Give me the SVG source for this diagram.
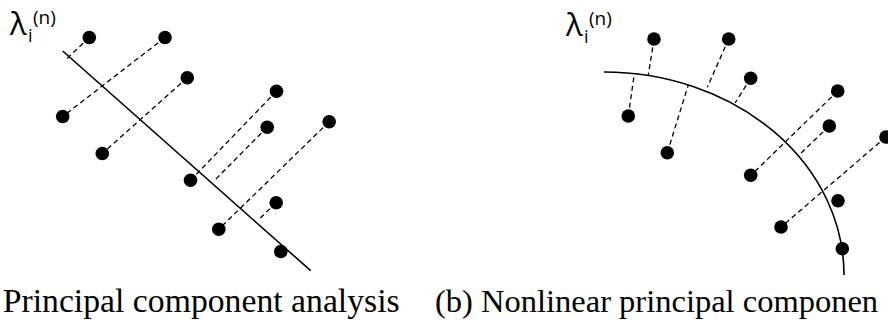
<svg xmlns="http://www.w3.org/2000/svg" width="888" height="323" viewBox="0 0 888 323">
<style>
.dot{fill:#000}
.proj{stroke:#000;stroke-width:1.3;stroke-dasharray:5 3.5;fill:none}
.axis{stroke:#000;stroke-width:1.6;fill:none}
.lam{font-family:"Open Sans","Liberation Sans",sans-serif;fill:#000}
.cap{fill:#000}
</style>
<rect width="888" height="323" fill="#fff"/>
<g id="connectors">
  <line class="axis" x1="62.7" y1="51" x2="310.7" y2="270.7"/>
  <line class="proj" x1="89.3" y1="37.5" x2="67" y2="58.5"/>
  <line class="proj" x1="165" y1="37.5" x2="62.7" y2="116.5"/>
  <line class="proj" x1="187.3" y1="77.7" x2="102.3" y2="153.5"/>
  <line class="proj" x1="276.5" y1="91.2" x2="190.5" y2="180.3"/>
  <line class="proj" x1="267.2" y1="127.2" x2="213.3" y2="181.7"/>
  <line class="proj" x1="329.2" y1="121.7" x2="218.8" y2="229.2"/>
  <line class="proj" x1="276.2" y1="202.7" x2="260" y2="218.3"/>
  <path class="axis" d="M604 72 A240 203 0 0 1 844 275"/>
  <line class="proj" x1="654" y1="39" x2="648.3" y2="75"/>
  <line class="proj" x1="628.3" y1="116" x2="634.3" y2="74"/>
  <line class="proj" x1="667.3" y1="152.7" x2="688.3" y2="85"/>
  <line class="proj" x1="728.7" y1="39" x2="707.3" y2="87.3"/>
  <line class="proj" x1="750.7" y1="78.3" x2="735" y2="103"/>
  <line class="proj" x1="837.7" y1="91" x2="750.7" y2="175.5"/>
  <line class="proj" x1="829.3" y1="126" x2="800" y2="154"/>
  <line class="proj" x1="886" y1="137" x2="781" y2="227"/>
</g>
<g id="pca-points">
  <g id="a1"><circle class="dot" cx="89.3" cy="37.5" r="6.8"/></g>
  <g id="a2"><circle class="dot" cx="165" cy="37.5" r="6.8"/></g>
  <g id="a3"><circle class="dot" cx="187.3" cy="77.7" r="6.8"/></g>
  <g id="a4"><circle class="dot" cx="62.7" cy="116.5" r="6.8"/></g>
  <g id="a5"><circle class="dot" cx="102.3" cy="153.5" r="6.8"/></g>
  <g id="a6"><circle class="dot" cx="276.5" cy="91.2" r="6.8"/></g>
  <g id="a7"><circle class="dot" cx="267.2" cy="127.2" r="6.8"/></g>
  <g id="a8"><circle class="dot" cx="329.2" cy="121.7" r="6.8"/></g>
  <g id="a9"><circle class="dot" cx="190.5" cy="180.3" r="6.8"/></g>
  <g id="a10"><circle class="dot" cx="276.2" cy="202.7" r="6.8"/></g>
  <g id="a11"><circle class="dot" cx="218.8" cy="229.2" r="6.8"/></g>
  <g id="a12"><circle class="dot" cx="280.8" cy="251.5" r="6.8"/></g>
</g>
<g id="npca-points">
  <g id="b1"><circle class="dot" cx="654" cy="39" r="6.8"/></g>
  <g id="b2"><circle class="dot" cx="728.7" cy="39" r="6.8"/></g>
  <g id="b3"><circle class="dot" cx="750.7" cy="78.3" r="6.8"/></g>
  <g id="b4"><circle class="dot" cx="628.3" cy="116" r="6.8"/></g>
  <g id="b5"><circle class="dot" cx="667.3" cy="152.7" r="6.8"/></g>
  <g id="b6"><circle class="dot" cx="837.7" cy="91" r="6.8"/></g>
  <g id="b7"><circle class="dot" cx="829.3" cy="126" r="6.8"/></g>
  <g id="b8"><circle class="dot" cx="886" cy="137" r="6.8"/></g>
  <g id="b9"><circle class="dot" cx="750.7" cy="175.3" r="6.8"/></g>
  <g id="b10"><circle class="dot" cx="838" cy="200.7" r="6.8"/></g>
  <g id="b11"><circle class="dot" cx="781" cy="227" r="6.8"/></g>
  <g id="b12"><circle class="dot" cx="842.3" cy="248.7" r="6.8"/></g>
</g>
<g id="label-a">
  <text class="lam" x="10" y="35" font-size="31">λ</text>
  <text class="lam" x="28" y="42" font-size="18">i</text>
  <text class="lam" x="33" y="24" font-size="19">(n)</text>
</g>
<g id="label-b">
  <text class="lam" x="566" y="36" font-size="31">λ</text>
  <text class="lam" x="584" y="43" font-size="18">i</text>
  <text class="lam" x="589" y="25" font-size="19">(n)</text>
</g>
<g id="captions">
  <text class="cap" x="2.7" y="312" font-family="Liberation Serif, DejaVu Serif, serif" font-size="34" textLength="397" lengthAdjust="spacingAndGlyphs">Principal component analysis</text>
  <text class="cap" x="435" y="312" font-family="Liberation Serif, DejaVu Serif, serif" font-size="32.5">(b) Nonlinear principal componen</text>
</g>
</svg>
